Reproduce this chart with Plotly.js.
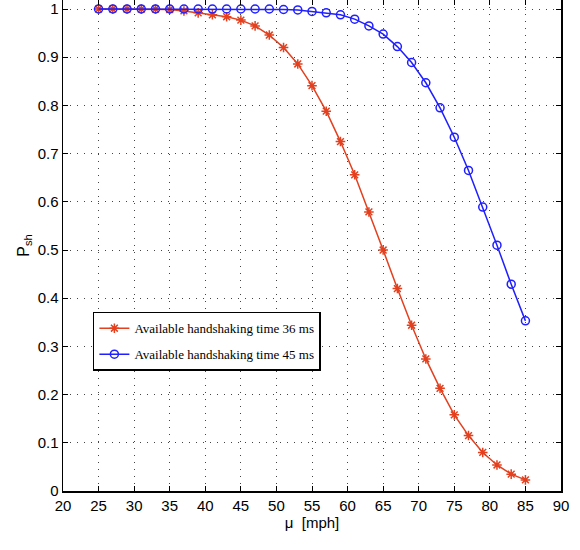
<!DOCTYPE html>
<html>
<head>
<meta charset="utf-8">
<script src="https://cdn.plot.ly/plotly-3.0.1.min.js"></script>
<style>html,body{margin:0;padding:0;background:#fff;}#chart{width:580px;height:550px;}</style>
</head>
<body>
<div id="chart"></div>
<script>
var speed = [25,27,29,31,33,35,37,39,41,43,45,47,49,51,53,55,57,59,61,63,65,67,69,71,73,75,77,79,81,83,85];
var p36 = [1.0,1.0,1.0,1.0,1.0,0.999,0.996,0.992,0.988,0.984,0.977,0.965,0.946,0.920,0.886,0.841,0.788,0.725,0.656,0.579,0.500,0.420,0.344,0.274,0.213,0.158,0.115,0.080,0.054,0.035,0.023];
var p45 = [1.0,1.0,1.0,1.0,1.0,1.0,1.0,1.0,1.0,1.0,1.0,1.0,1.0,0.999,0.998,0.995,0.992,0.988,0.979,0.965,0.948,0.922,0.889,0.847,0.795,0.734,0.665,0.589,0.510,0.429,0.353];
var names = ['Available handshaking time 36 ms','Available handshaking time 45 ms'];

var traces = [
  {x: speed, y: p36, name: names[0], legendgroup: 'g36', type: 'scatter', mode: 'lines+markers',
   line: {color: '#e2401e', width: 1.5},
   marker: {symbol: 'asterisk-open', size: 8, color: '#e2401e', line: {color: '#e2401e', width: 1.5}}},
  {x: speed, y: p45, name: names[1], legendgroup: 'g45', type: 'scatter', mode: 'lines+markers',
   line: {color: '#1f1fff', width: 1.5},
   marker: {symbol: 'circle-open', size: 8, color: '#1f1fff', line: {color: '#1f1fff', width: 1.5}}}
];

var axisCommon = {
  showline: true, linecolor: '#000', linewidth: 1.5, mirror: 'ticks',
  ticks: 'inside', ticklen: 5, tickcolor: '#000', tickwidth: 1,
  showgrid: true, gridcolor: '#444', griddash: '1px,6px', gridwidth: 1,
  zeroline: false,
  tickfont: {family: 'Liberation Sans, Arial, sans-serif', size: 15, color: '#000'}
};

var layout = {
  width: 580, height: 550,
  margin: {l: 63, r: 19, t: 0, b: 59},
  paper_bgcolor: '#fff', plot_bgcolor: '#fff',
  showlegend: true,
  legend: {x: 0.06, y: 0.365, xanchor: 'left', yanchor: 'top',
    bgcolor: '#fff', bordercolor: '#000', borderwidth: 1.5,
    font: {family: 'Liberation Serif, Times New Roman, serif', size: 13, color: '#000'},
    itemwidth: 30, traceorder: 'grouped', tracegroupgap: 6},
  xaxis: Object.assign({}, axisCommon, {range: [20, 90], dtick: 5, tick0: 20,
    title: {text: 'μ  [mph]', standoff: 4, font: {family: 'Liberation Sans, Arial, sans-serif', size: 15, color: '#000'}}}),
  yaxis: Object.assign({}, axisCommon, {range: [0, 1.0187], dtick: 0.1, tick0: 0,
    title: {text: 'P<sub>sh</sub>', standoff: 4, font: {family: 'Liberation Sans, Arial, sans-serif', size: 16, color: '#000'}}})
};

Plotly.newPlot('chart', traces, layout, {displayModeBar: false, staticPlot: true});
</script>
</body>
</html>
